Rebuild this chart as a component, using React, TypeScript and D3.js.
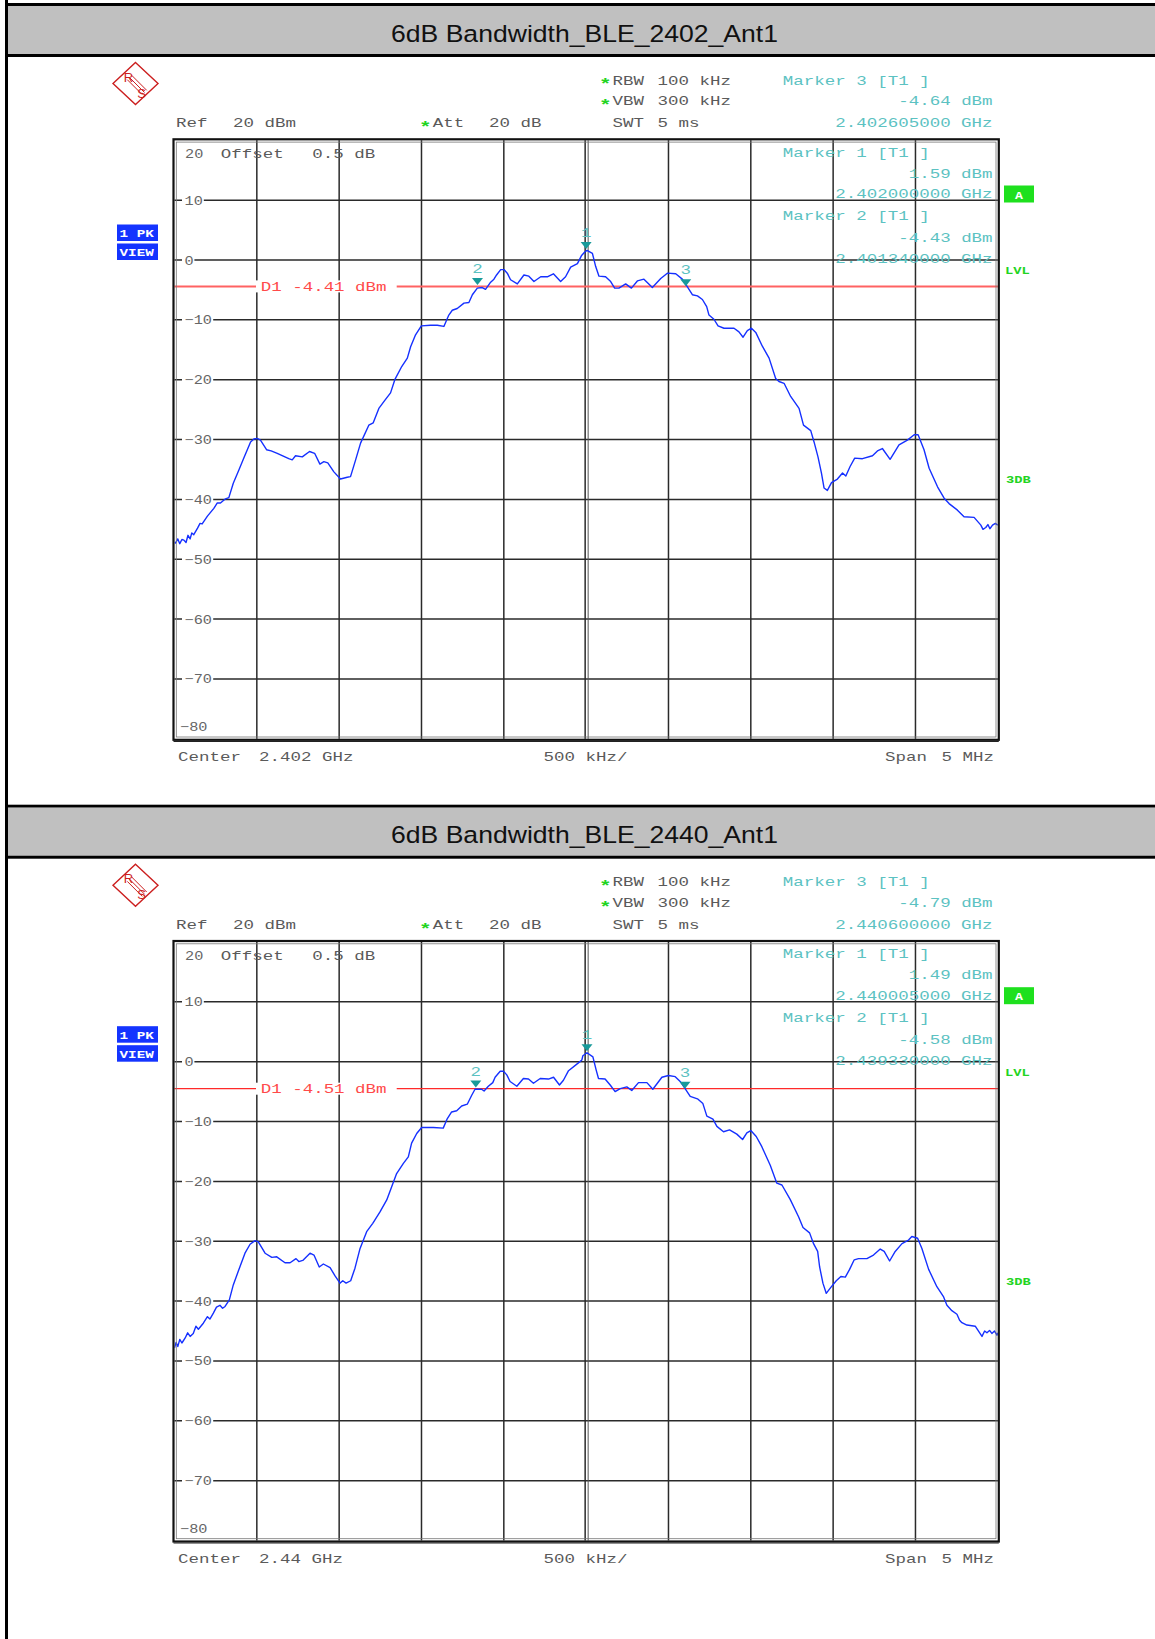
import React from 'react';
import * as d3 from 'd3';

// ---------- data ----------
const levelGrid = [10, 0, -10, -20, -30, -40, -50, -60, -70];
const freqGrid = [-2, -1.5, -1, -0.5, 0.5, 1, 1.5, 2];

// [offset from centre (MHz), level (dBm)]
const trace2402: [number, number][] = [
  [-2.5, -47.2], [-2.494, -47.3], [-2.48, -46.6], [-2.468, -47.4], [-2.455, -46.7], [-2.443, -46.8], [-2.43, -47.2],
  [-2.418, -46.0], [-2.405, -46.6], [-2.395, -45.6], [-2.383, -45.9], [-2.36, -44.8], [-2.345, -44.0], [-2.332, -44.1],
  [-2.3, -42.8], [-2.261, -41.5], [-2.24, -40.6], [-2.221, -40.6], [-2.19, -39.9], [-2.17, -39.7], [-2.143, -37.3],
  [-2.109, -35.1], [-2.079, -33.1], [-2.038, -30.4], [-2.018, -29.9], [-1.998, -29.8], [-1.978, -30.1], [-1.941, -31.7],
  [-1.913, -31.9], [-1.876, -32.3], [-1.806, -33.2], [-1.785, -33.4], [-1.765, -32.7], [-1.724, -32.9], [-1.68, -32.0],
  [-1.649, -32.3], [-1.617, -34.1], [-1.593, -33.7], [-1.569, -33.9], [-1.532, -35.4], [-1.492, -36.6], [-1.451, -36.3],
  [-1.431, -36.2], [-1.4, -33.4], [-1.37, -30.6], [-1.32, -27.6], [-1.293, -27.2], [-1.259, -24.8], [-1.224, -23.5],
  [-1.188, -22.2], [-1.162, -20.0], [-1.12, -17.8], [-1.086, -16.4], [-1.066, -14.5], [-1.036, -12.5], [-1.001, -11.0],
  [-0.945, -10.9], [-0.904, -10.9], [-0.864, -11.1], [-0.834, -9.2], [-0.813, -8.4], [-0.783, -8.1], [-0.742, -7.2],
  [-0.712, -7.1], [-0.691, -5.8], [-0.661, -4.7], [-0.631, -4.6], [-0.611, -4.9], [-0.58, -3.7], [-0.56, -3.2],
  [-0.544, -2.5], [-0.519, -1.6], [-0.499, -1.6], [-0.479, -2.2], [-0.459, -3.3], [-0.418, -4.0], [-0.378, -2.5],
  [-0.348, -2.7], [-0.317, -3.6], [-0.276, -2.8], [-0.236, -2.8], [-0.199, -2.3], [-0.155, -3.6], [-0.125, -2.8],
  [-0.094, -1.2], [-0.053, -0.6], [-0.029, 0.7], [-0.01, 1.3], [0.005, 1.6], [0.038, 1.1], [0.058, -1.1], [0.078, -2.7],
  [0.118, -2.8], [0.149, -3.6], [0.173, -4.7], [0.199, -4.7], [0.24, -4.0], [0.275, -4.7], [0.311, -3.5], [0.351, -3.2],
  [0.402, -4.6], [0.453, -3.1], [0.493, -2.2], [0.544, -2.3], [0.584, -3.2], [0.615, -4.5], [0.645, -5.8], [0.676, -6.0],
  [0.706, -6.6], [0.732, -7.8], [0.746, -9.2], [0.776, -9.9], [0.801, -11.0], [0.837, -11.4], [0.898, -11.4],
  [0.928, -12.0], [0.953, -12.9], [0.979, -11.8], [1.004, -11.4], [1.03, -12.1], [1.07, -14.4], [1.111, -16.4],
  [1.151, -19.8], [1.171, -20.3], [1.202, -20.6], [1.242, -22.8], [1.293, -24.8], [1.32, -27.6], [1.364, -28.5],
  [1.384, -30.4], [1.408, -32.9], [1.429, -35.6], [1.445, -38.1], [1.465, -38.5], [1.49, -37.2], [1.526, -36.6],
  [1.557, -35.6], [1.577, -36.1], [1.603, -34.5], [1.631, -33.1], [1.678, -33.2], [1.739, -32.7], [1.769, -31.9],
  [1.799, -31.5], [1.846, -33.3], [1.9, -30.9], [1.951, -30.1], [1.992, -29.2], [2.016, -29.2], [2.052, -31.7],
  [2.083, -34.8], [2.134, -37.9], [2.174, -39.8], [2.204, -40.7], [2.255, -41.8], [2.295, -42.9], [2.356, -43.0],
  [2.397, -44.3], [2.41, -45.0], [2.427, -44.7], [2.44, -44.2], [2.452, -44.9], [2.468, -44.3], [2.485, -44.0], [2.5, -44.3],
];

const trace2440: [number, number][] = [
  [-2.5, -47.8], [-2.49, -46.9], [-2.48, -47.6], [-2.468, -46.4], [-2.455, -47.0], [-2.436, -46.2], [-2.42, -45.3],
  [-2.405, -45.9], [-2.386, -45.4], [-2.37, -44.2], [-2.355, -44.7], [-2.325, -43.7], [-2.3, -42.6], [-2.285, -43.0],
  [-2.264, -42.0], [-2.245, -41.0], [-2.224, -40.7], [-2.208, -41.2], [-2.193, -40.9], [-2.167, -39.8], [-2.143, -37.3],
  [-2.102, -34.2], [-2.072, -32.0], [-2.041, -30.5], [-2.011, -29.9], [-1.991, -30.1], [-1.95, -32.0], [-1.909, -32.7],
  [-1.879, -32.6], [-1.829, -33.6], [-1.798, -33.6], [-1.762, -32.9], [-1.745, -33.4], [-1.721, -33.2], [-1.677, -32.0],
  [-1.653, -32.3], [-1.621, -34.3], [-1.596, -33.8], [-1.555, -34.4], [-1.525, -35.8], [-1.495, -37.0], [-1.478, -36.6],
  [-1.458, -37.0], [-1.43, -36.6], [-1.404, -34.5], [-1.373, -31.2], [-1.333, -28.4], [-1.296, -27.0], [-1.252, -25.1],
  [-1.211, -23.1], [-1.181, -20.9], [-1.151, -18.7], [-1.11, -17.0], [-1.08, -15.9], [-1.06, -13.6], [-1.029, -12.0],
  [-0.999, -11.0], [-0.928, -11.0], [-0.868, -11.1], [-0.843, -9.5], [-0.817, -8.4], [-0.786, -8.2], [-0.756, -7.4],
  [-0.722, -7.1], [-0.695, -5.6], [-0.675, -4.6], [-0.635, -4.6], [-0.62, -4.9], [-0.594, -4.1], [-0.567, -3.5],
  [-0.553, -2.6], [-0.522, -1.6], [-0.502, -1.6], [-0.482, -2.2], [-0.462, -3.3], [-0.421, -4.1], [-0.381, -2.8],
  [-0.35, -2.9], [-0.32, -3.6], [-0.279, -2.8], [-0.229, -2.9], [-0.198, -2.6], [-0.162, -3.9], [-0.138, -3.1],
  [-0.107, -1.5], [-0.047, -0.2], [-0.026, 0.3], [-0.02, 1.0], [0.005, 1.5], [0.041, 0.8], [0.061, -1.4], [0.075, -2.8],
  [0.115, -2.9], [0.146, -3.9], [0.176, -5.0], [0.207, -4.5], [0.247, -4.2], [0.277, -4.8], [0.318, -3.5], [0.369, -3.5],
  [0.405, -4.6], [0.46, -2.6], [0.5, -2.3], [0.541, -2.5], [0.571, -3.3], [0.601, -4.5], [0.632, -5.8], [0.676, -6.2],
  [0.709, -7.0], [0.733, -9.1], [0.77, -9.6], [0.794, -10.8], [0.834, -11.7], [0.871, -11.4], [0.915, -12.1],
  [0.95, -13.0], [0.976, -11.9], [1.0, -11.5], [1.033, -12.5], [1.067, -14.2], [1.118, -17.3], [1.158, -20.3],
  [1.189, -20.6], [1.239, -23.0], [1.29, -25.9], [1.317, -27.7], [1.357, -28.6], [1.381, -30.4], [1.406, -31.7],
  [1.418, -34.3], [1.438, -37.0], [1.458, -38.7], [1.486, -37.7], [1.519, -36.6], [1.547, -35.9], [1.574, -36.0],
  [1.6, -34.7], [1.628, -33.1], [1.654, -32.9], [1.705, -32.9], [1.745, -32.3], [1.786, -31.3], [1.81, -31.7],
  [1.843, -33.3], [1.877, -31.7], [1.918, -30.4], [1.958, -29.8], [1.978, -29.2], [2.013, -29.5], [2.039, -31.2],
  [2.08, -34.7], [2.13, -37.6], [2.171, -39.3], [2.191, -40.7], [2.221, -41.6], [2.252, -42.2], [2.268, -43.2],
  [2.282, -43.6], [2.312, -44.0], [2.363, -44.2], [2.404, -45.9], [2.42, -45.0], [2.434, -45.3], [2.45, -44.9],
  [2.464, -45.4], [2.48, -45.0], [2.495, -45.7], [2.5, -45.3],
];

const markers2402 = [
  { id: '1', f: 0, db: 1.59 },
  { id: '2', f: -0.66, db: -4.43 },
  { id: '3', f: 0.605, db: -4.64 },
];
const markers2440 = [
  { id: '1', f: 0.005, db: 1.49 },
  { id: '2', f: -0.67, db: -4.58 },
  { id: '3', f: 0.6, db: -4.79 },
];

const markerLines2402 = [
  'Marker 3 [T1 ]', '-4.64 dBm', '2.402605000 GHz',
  'Marker 1 [T1 ]', '1.59 dBm', '2.402000000 GHz',
  'Marker 2 [T1 ]', '-4.43 dBm', '2.401340000 GHz',
];
const markerLines2440 = [
  'Marker 3 [T1 ]', '-4.79 dBm', '2.440600000 GHz',
  'Marker 1 [T1 ]', '1.49 dBm', '2.440005000 GHz',
  'Marker 2 [T1 ]', '-4.58 dBm', '2.439330000 GHz',
];

const panels = [
  { title: '6dB Bandwidth_BLE_2402_Ant1', center: '2.402 GHz', d1: -4.41, d1Label: 'D1 -4.41 dBm',
    trace: trace2402, markers: markers2402, lines: markerLines2402, d1Color: '#ff6262', d1Width: 2 },
  { title: '6dB Bandwidth_BLE_2440_Ant1', center: '2.44 GHz', d1: -4.51, d1Label: 'D1 -4.51 dBm',
    trace: trace2440, markers: markers2440, lines: markerLines2440, d1Color: '#ff2a2a', d1Width: 1.3 },
];

// ---------- layout ----------
const W = 1155, H = 1639;
const PANEL_DY = 801.7;
const X0 = 174.5, X1 = 997.8, YTOP = 140.3, YBOT = 738.8;
const SX = 1.4;
const MONO = "'Liberation Mono', 'DejaVu Sans Mono', monospace";
const GRAY = '#5a5a5a';
const TEAL = '#5cc2c2';
const GREEN = '#22d422';

const xScale = d3.scaleLinear().domain([-2.5, 2.5]).range([X0, X1]);
const yScale = d3.scaleLinear().domain([-80, 20]).range([YBOT, YTOP]);

function MT(props: { x: number; y: number; children: any; fill?: string; anchor?: string; size?: number; weight?: string; sx?: number }) {
  const { x, y, children, fill = GRAY, anchor = 'start', size = 12.5, weight = 'normal', sx = SX } = props;
  return (
    <text transform={`translate(${x},${y}) scale(${sx},1)`} fontFamily={MONO} fontSize={size}
      fill={fill} textAnchor={anchor as any} fontWeight={weight} style={{ whiteSpace: 'pre' }}>{children}</text>
  );
}

function Logo({ cx, cy }: { cx: number; cy: number }) {
  const hw = 22.5, hh = 21;
  const red = '#cc1f1f';
  return (
    <g>
      <polygon points={`${cx},${cy - hh} ${cx + hw},${cy} ${cx},${cy + hh} ${cx - hw},${cy}`} fill="none" stroke={red} strokeWidth={1.4} />
      {[-2.2, 0, 2.2].map((o) => (
        <line key={o} x1={cx - 6 + o} y1={cy - 6 - o} x2={cx + 9 + o} y2={cy + 9 - o} stroke={red} strokeWidth={1} />
      ))}
      <text x={cx - 7} y={cy - 2} fontFamily="'Liberation Sans', Arial, sans-serif" fontSize={13} fill={red} textAnchor="middle">R</text>
      <text x={cx + 6} y={cy + 14} fontFamily="'Liberation Sans', Arial, sans-serif" fontSize={13} fill={red} textAnchor="middle">S</text>
    </g>
  );
}

function Panel({ p, dy, idx }: { p: any; dy: number; idx: number }) {
  const line = d3.line<[number, number]>().x((d) => xScale(d[0])).y((d) => yScale(d[1]));
  const xc = xScale(0);
  const textBase = [84.5, 105.4, 127.3, 156.6, 177.5, 198.4, 220.4, 242.3, 263.2];
  const yD1 = yScale(p.d1);
  return (
    <g transform={`translate(0,${dy})`}>
      {/* header */}
      <rect x={7} y={3} width={W - 7} height={3} fill="#000" />
      <rect x={7} y={6} width={W - 7} height={48} fill="#c0c0c0" />
      <rect x={7} y={54} width={W - 7} height={3} fill="#000" />
      <text x={584.5} y={41.5} fontFamily="'Liberation Sans', Arial, sans-serif" fontSize={24.5}
        textAnchor="middle" textLength={387} lengthAdjust="spacingAndGlyphs" fill="#111">{p.title}</text>

      <Logo cx={135.5} cy={83.5} />

      {/* setting texts */}
      <MT x={599} y={89} fill={GREEN} size={15} weight="bold">*</MT>
      <MT x={612.5} y={84.5}>RBW</MT>
      <MT x={657.5} y={84.5}>100 kHz</MT>
      <MT x={599} y={110} fill={GREEN} size={15} weight="bold">*</MT>
      <MT x={612.5} y={105.4}>VBW</MT>
      <MT x={657.5} y={105.4}>300 kHz</MT>
      <MT x={612.5} y={127.3}>SWT</MT>
      <MT x={657.5} y={127.3}>5 ms</MT>
      <MT x={176} y={127.3}>Ref</MT>
      <MT x={233} y={127.3}>20 dBm</MT>
      <MT x={419} y={132} fill={GREEN} size={15} weight="bold">*</MT>
      <MT x={432.7} y={127.3}>Att</MT>
      <MT x={489} y={127.3}>20 dB</MT>

      {/* blue view boxes */}
      <rect x={117} y={224.5} width={41} height={16.5} fill="#1434ff" />
      <rect x={117} y={243.5} width={41} height={16.5} fill="#1434ff" />
      <MT x={119.5} y={237} fill="#fff" size={11} weight="bold" sx={1.3}>1 PK</MT>
      <MT x={119.5} y={256} fill="#fff" size={11} weight="bold" sx={1.3}>VIEW</MT>

      {/* right side labels */}
      <rect x={1004} y={185.5} width={30} height={17} fill="#1ee01e" />
      <MT x={1019} y={198.5} fill="#fff" size={11} weight="bold" sx={1.2} anchor="middle">A</MT>
      <MT x={1005} y={274} fill={GREEN} size={11} weight="bold" sx={1.25}>LVL</MT>
      <MT x={1006} y={483} fill={GREEN} size={11} weight="bold" sx={1.25}>3DB</MT>

      {/* grid */}
      {levelGrid.map((l) => (
        <line key={'h' + l} x1={X0} x2={X1} y1={yScale(l)} y2={yScale(l)} stroke="#2a2a2a" strokeWidth={1.5} />
      ))}
      {freqGrid.map((f) => (
        <line key={'v' + f} x1={xScale(f)} x2={xScale(f)} y1={YTOP} y2={YBOT} stroke="#2a2a2a" strokeWidth={1.5} />
      ))}
      <line x1={xc - 1} x2={xc - 1} y1={YTOP} y2={YBOT} stroke="#2a2a2a" strokeWidth={1.5} />
      <line x1={xc + 2} x2={xc + 2} y1={YTOP} y2={YBOT} stroke="#555" strokeWidth={1} />

      {/* y labels */}
      {levelGrid.map((l) => {
        const s = l < 0 ? '\u2212' + String(-l) : String(l);
        return (
          <g key={'yl' + l}>
            <rect x={182} y={yScale(l) - 6} width={s.length * 9.4 + 3} height={12} fill="#fff" />
            <MT x={184.5} y={yScale(l) + 4.5} fill="#666" size={12.5} sx={1.22}>{s}</MT>
          </g>
        );
      })}
      <MT x={185} y={158} fill="#666" size={12.5} sx={1.22}>20</MT>
      <MT x={220.7} y={158}>Offset</MT>
      <MT x={312.3} y={158}>0.5 dB</MT>
      <MT x={180} y={731} fill="#666" size={12.5} sx={1.22}>{'\u221280'}</MT>

      {/* marker info text */}
      {p.lines.map((t: string, i: number) => (
        <MT key={'ml' + i} x={i % 3 === 0 ? 782.8 : 992.6} y={textBase[i]} fill={TEAL} anchor={i % 3 === 0 ? 'start' : 'end'}>{t}</MT>
      ))}

      {/* display line D1 */}
      <line x1={X0} x2={X1} y1={yD1} y2={yD1} stroke={p.d1Color} strokeWidth={p.d1Width} />
      <rect x={256} y={yD1 - 6} width={140.7} height={12} fill="#fff" />
      <MT x={260.7} y={yD1 + 4.5} fill="#ff4a4a">{p.d1Label}</MT>

      {/* trace */}
      <defs>
        <clipPath id={'clip' + idx}>
          <rect x={X0} y={YTOP} width={X1 - X0} height={YBOT - YTOP} />
        </clipPath>
      </defs>
      <path d={line(p.trace) || ''} fill="none" stroke="#1530ff" strokeWidth={1.4} clipPath={`url(#clip${idx})`} strokeLinejoin="round" />

      {/* markers */}
      {p.markers.map((m: any) => {
        const x = xScale(m.f), y = yScale(m.db);
        return (
          <g key={'m' + m.id}>
            <polygon points={`${x - 5.5},${y - 8.5} ${x + 5.5},${y - 8.5} ${x},${y - 1.5}`} fill="#189a9a" />
            <MT x={x} y={y - 13.5} fill={TEAL} anchor="middle">{m.id}</MT>
          </g>
        );
      })}

      {/* frame */}
      <rect x={X0 - 1} y={YTOP - 1} width={X1 - X0 + 2} height={YBOT - YTOP + 2} fill="none" stroke="#111" strokeWidth={2.2} />
      <rect x={X0 + 1.8} y={YTOP + 1.8} width={X1 - X0 - 3.6} height={YBOT - YTOP - 3.6} fill="none" stroke="#777" strokeWidth={0.8} />
      <line x1={X0 - 1} x2={X1 + 1} y1={YBOT + 2.5} y2={YBOT + 2.5} stroke="#222" strokeWidth={1.2} />

      {/* bottom labels */}
      <MT x={178} y={761}>Center</MT>
      <MT x={259} y={761}>{p.center}</MT>
      <MT x={543.5} y={761}>500 kHz/</MT>
      <MT x={885} y={761}>Span</MT>
      <MT x={941.5} y={761}>5 MHz</MT>
    </g>
  );
}

export default function App() {
  return (
    <svg width={W} height={H} viewBox={`0 0 ${W} ${H}`}
      style={{ position: 'absolute', left: 0, top: 0, background: '#fff' }}>
      <rect x={0} y={0} width={W} height={H} fill="#fff" />
      {panels.map((p, i) => (
        <Panel key={i} p={p} dy={i * PANEL_DY} idx={i} />
      ))}
      <rect x={5} y={0} width={3} height={H} fill="#000" />
    </svg>
  );
}
